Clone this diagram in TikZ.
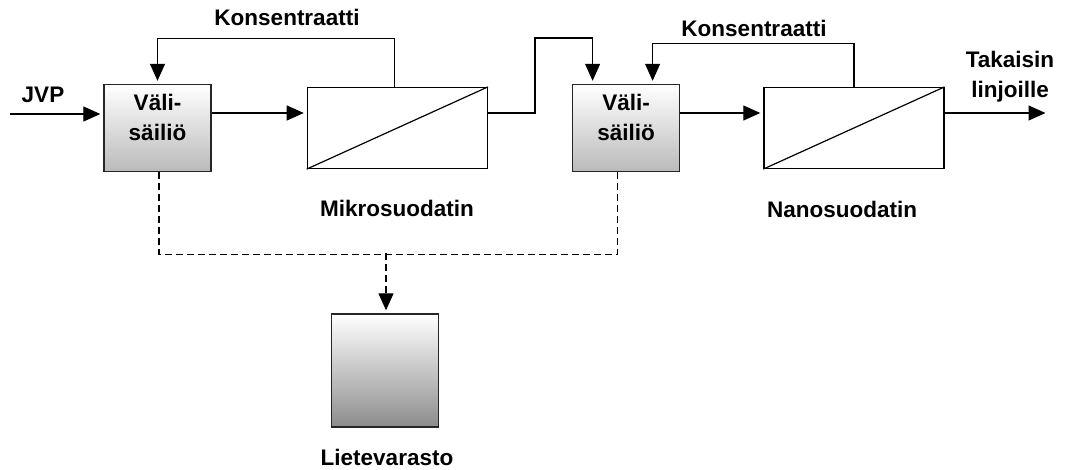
\documentclass[tikz,border=0pt]{standalone}
\usepackage{fontspec}
\setmainfont{Liberation Sans}
\usepackage{tikz}
\usetikzlibrary{arrows.meta}
\usetikzlibrary{positioning}

\begin{document}
\begin{tikzpicture}[x=1pt,y=-1pt,>={Triangle[length=17pt,width=15pt]},line width=1.2pt,
                    font=\fontsize{22.5}{30}\selectfont\bfseries,
                    tank/.style={rectangle,draw=black!85,line width=1.4pt,minimum width=107pt,
                                 minimum height=87pt,top color=white,bottom color=black!27,inner sep=0pt},
                    filter/.style={rectangle,draw,fill=white,minimum width=180pt,minimum height=81pt,inner sep=0pt},
                    tag/.style={inner sep=0pt,align=center},
                    flow/.style={->,shorten >=3pt}]

        \useasboundingbox (0,0) rectangle (1068,470);

        \node[tank] (tankA) at (157.5,128) {};
        \node[filter] (mikro) [right=95pt of tankA] {};
        \node[tank] (tankB) [right=84pt of mikro] {};
        \node[filter] (nano) [right=83pt of tankB] {};
        \node[tank,minimum height=113pt,bottom color=black!45] (liete) at (385,370.5) {};

        \node[tag] (tankAtxt) at ([yshift=11pt]tankA.center) {Väli-\\säiliö};
        \node[tag] (tankBtxt) at ([yshift=11pt]tankB.center) {Väli-\\säiliö};

        \node[tag] (jvp) at (43,95) {JVP};
        \node[tag] (kons1) at (287,17) {Konsentraatti};
        \node[tag] (kons2) at (754,28) {Konsentraatti};
        \node[tag] (mikrolbl) at (397,208) {Mikrosuodatin};
        \node[tag] (nanolbl) at (842,209) {Nanosuodatin};
        \node[tag] (lietelbl) at (387,457) {Lietevarasto};
        \node[tag] (paluu) at (1010,77) {Takaisin\\linjoille};

        \coordinate (jvpin) at (10,114);
        \coordinate (ulos) at ([xshift=104pt,yshift=15pt]nano.east);
        \coordinate (sivu) at (386,253.5);

        % membrane lines
        \draw (mikro.south west) -- (mikro.north east);
        \draw (nano.south west) -- (nano.north east);

        % main flow
        \draw[flow] (jvpin) -- (jvpin -| tankA.west);
        \draw[flow] ([yshift=15pt]tankA.east) -- ([yshift=15pt]tankA.east -| mikro.west);
        \draw[flow] ([yshift=15pt]mikro.east) -- ++(47,0) -- ++(0,-75) -| ([xshift=-33.5pt]tankB.north);
        \draw[flow] ([yshift=15pt]tankB.east) -- ([yshift=15pt]tankB.east -| nano.west);
        \draw[flow] ([yshift=15pt]nano.east) -- (ulos);

        % concentrate back
        \draw[flow] ([xshift=-3pt]mikro.north) -- ++(0,-48) -| (tankA.north);
        \draw[flow] (nano.north) -- ++(0,-43) -| ([xshift=26.5pt]tankB.north);

        % sludge
        \draw[dash pattern=on 7pt off 4pt] ([xshift=1.5pt]tankA.south) -- ++(0,82) -| ([xshift=-8.5pt]tankB.south);
        \draw[flow,dash pattern=on 7pt off 4pt] (sivu) -- (sivu |- liete.north);
\end{tikzpicture}
\end{document}
